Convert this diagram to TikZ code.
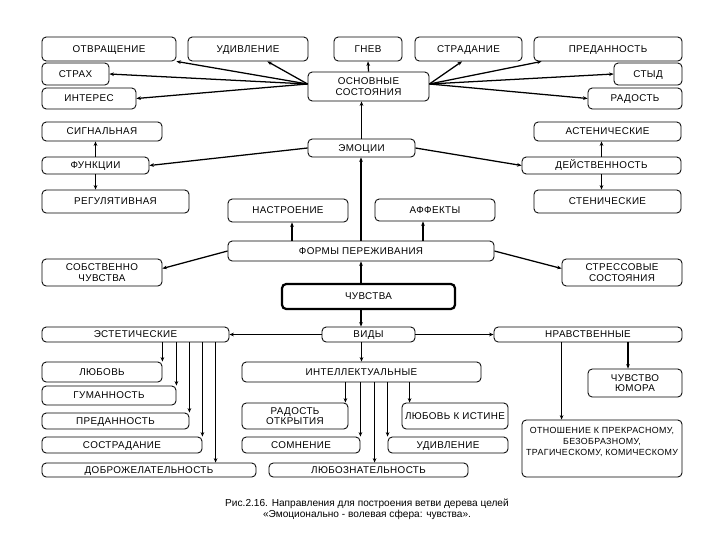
\documentclass[tikz,border=0pt]{standalone}
\usepackage{fontspec}
\setmainfont{Liberation Sans}[LetterSpace=4]
\newfontfamily\capfont{Liberation Sans}
\usetikzlibrary{arrows.meta, calc}

\begin{document}
\begin{tikzpicture}[
        x=0.025cm, y=-0.025cm,
        % box for every term
        box/.style={
            rectangle,
            rounded corners=3pt,
            draw=black,
            line width=0.6pt,
            inner sep=0pt,
            align=center,
            text height=5pt,
            text depth=0.6pt,
            font=\fontsize{7}{7.6}\selectfont
        },
        % two lines of text
        twoline/.style={text height=12.6pt, text depth=0pt},
        % box from its corners (left, top, right, bottom)
        area/.style n args={4}{
            at={({(#1+#3)/2},{(#2+#4)/2})},
            minimum width={(#3-#1)*0.025cm},
            minimum height={(#4-#2)*0.025cm}
        },
        % the central box
        mainbox/.style={box, line width=1.6pt},
        % arrows
        arrow/.style={
            -{Stealth[length=3.2pt, width=2.6pt]},
            line width=0.9pt,
            draw=black
        },
        thinarrow/.style={arrow, line width=0.5pt},
        boldarrow/.style={arrow, line width=1.2pt}
    ]

    % ================= canvas =================
    \fill[white] (0,0) rectangle (720,540);
    \useasboundingbox (0,0) rectangle (720,540);

    % ================= nodes =================
    % 1. basic states
    \node[box, area={42}{37}{176}{61}] (otvr) {ОТВРАЩЕНИЕ};
    \node[box, area={188}{37}{308}{61}] (udiv) {УДИВЛЕНИЕ};
    \node[box, area={334}{37}{402}{61}] (gnev) {ГНЕВ};
    \node[box, area={415}{37}{522}{61}] (strad) {СТРАДАНИЕ};
    \node[box, area={534}{37}{682}{61}] (pred) {ПРЕДАННОСТЬ};
    \node[box, area={42}{63}{109}{85}] (strah) {СТРАХ};
    \node[box, area={42}{88}{136}{109}] (inter) {ИНТЕРЕС};
    \node[box, twoline, area={308}{72}{429}{101}] (osn) {ОСНОВНЫЕ\\СОСТОЯНИЯ};
    \node[box, area={614}{63}{682}{85}] (styd) {СТЫД};
    \node[box, area={588}{88}{682}{109}] (rad) {РАДОСТЬ};

    % 2. emotions
    \node[box, area={42}{122}{162}{141}] (sign) {СИГНАЛЬНАЯ};
    \node[box, area={534}{122}{681}{141}] (asten) {АСТЕНИЧЕСКИЕ};
    \node[box, area={308}{139}{415}{157}] (emo) {ЭМОЦИИ};
    \node[box, area={42}{157}{149}{174}] (funk) {ФУНКЦИИ};
    \node[box, area={522}{157}{681}{174}] (deistv) {ДЕЙСТВЕННОСТЬ};
    \node[box, area={42}{190}{189}{213}] (regul) {РЕГУЛЯТИВНАЯ};
    \node[box, area={534}{190}{681}{213}] (sten) {СТЕНИЧЕСКИЕ};
    \node[box, area={228}{199}{348}{222}] (nastr) {НАСТРОЕНИЕ};
    \node[box, area={375}{199}{495}{221}] (affekt) {АФФЕКТЫ};

    % 3. forms and feelings
    \node[box, area={228}{241}{494}{261}] (formy) {ФОРМЫ ПЕРЕЖИВАНИЯ};
    \node[box, twoline, area={42}{259}{162}{286}] (sobstv) {СОБСТВЕННО\\ЧУВСТВА};
    \node[box, twoline, area={562}{259}{682}{286}] (stress) {СТРЕССОВЫЕ\\СОСТОЯНИЯ};
    \node[mainbox, area={282}{284}{455}{309}] (chuv) {ЧУВСТВА};

    % 4. kinds of feelings
    \node[box, area={42}{327}{229}{342}] (esth) {ЭСТЕТИЧЕСКИЕ};
    \node[box, area={322}{327}{415}{342}] (vidy) {ВИДЫ};
    \node[box, area={494}{327}{682}{342}] (nravst) {НРАВСТВЕННЫЕ};
    \node[box, area={42}{362}{162}{382}] (lyub) {ЛЮБОВЬ};
    \node[box, area={242}{362}{481}{382}] (intel) {ИНТЕЛЛЕКТУАЛЬНЫЕ};
    \node[box, twoline, area={588}{369}{682}{397}] (yumor) {ЧУВСТВО\\ЮМОРА};
    \node[box, area={42}{386}{176}{405}] (gum) {ГУМАННОСТЬ};
    \node[box, twoline, area={242}{403}{348}{429}] (radotk) {РАДОСТЬ\\ОТКРЫТИЯ};
    \node[box, area={402}{403}{508}{429}] (istina) {ЛЮБОВЬ К ИСТИНЕ};
    \node[box, area={42}{413}{189}{429}] (pred2) {ПРЕДАННОСТЬ};
    \node[box, area={522}{420}{682}{477}, font=\fontsize{6.3}{7.8}\selectfont,
          text height=20.1pt, text depth=10.6pt] (otnosh)
        {ОТНОШЕНИЕ К ПРЕКРАСНОМУ,\\БЕЗОБРАЗНОМУ,\\ТРАГИЧЕСКОМУ, КОМИЧЕСКОМУ};
    \node[box, area={42}{437}{202}{453}] (sostr) {СОСТРАДАНИЕ};
    \node[box, area={242}{437}{360}{453}] (somn) {СОМНЕНИЕ};
    \node[box, area={388}{437}{508}{453}] (udiv2) {УДИВЛЕНИЕ};
    \node[box, area={42}{463}{256}{477}] (dobro) {ДОБРОЖЕЛАТЕЛЬНОСТЬ};
    \node[box, area={269}{463}{468}{477}] (lyuboz) {ЛЮБОЗНАТЕЛЬНОСТЬ};

    % 5. caption
    \node[font=\capfont\fontsize{7.2}{6.6}\selectfont, align=center] (caption) at (367,509.5)
        {Рис.2.16. Направления для построения ветви дерева целей\\
         «Эмоционально - волевая сфера: чувства».};

    % ================= arrows =================
    % basic states
    \draw[arrow] ($(osn.west)+(0,-2.5)$) -- (otvr.south east);
    \draw[arrow] ($(osn.west)+(0,-2.5)$) -- ($(udiv.south west)!0.66!(udiv.south east)$);
    \draw[arrow] ($(osn.west)+(0,-2.5)$) -- (strah.east);
    \draw[arrow] ($(osn.west)+(0,-2.5)$) -- (inter.east);
    \draw[arrow] (osn.north) -- (gnev.south);
    \draw[arrow] ($(osn.east)+(0,-2.5)$) -- ($(strad.south west)!0.44!(strad.south east)$);
    \draw[arrow] ($(osn.east)+(0,-2.5)$) -- ($(pred.south west)+(8,0)$);
    \draw[arrow] ($(osn.east)+(0,-2.5)$) -- (styd.west);
    \draw[arrow] ($(osn.east)+(0,-2.5)$) -- (rad.west);

    % emotions
    \draw[arrow] (emo.north) -- (emo.north |- osn.south);
    \draw[arrow] (emo.west) -- (funk.east);
    \draw[arrow] (emo.east) -- (deistv.west);
    \draw[arrow] (funk.north) -- (funk.north |- sign.south);
    \draw[arrow] (funk.south) -- (funk.south |- regul.north);
    \draw[arrow] (deistv.north) -- (deistv.north |- asten.south);
    \draw[arrow] (deistv.south) -- (deistv.south |- sten.north);

    % forms
    \draw[arrow] (formy.north) -- (formy.north |- emo.south);
    \draw[boldarrow] ($(nastr.south |- formy.north)+(4,0)$) -- ($(nastr.south)+(4,0)$);
    \draw[boldarrow] ($(affekt.south |- formy.north)+(-12,0)$) -- ($(affekt.south)+(-12,0)$);
    \draw[arrow] (formy.west) -- ($(sobstv.east)+(0,-4)$);
    \draw[arrow] (formy.east) -- ($(stress.west)+(0,-4)$);
    \draw[arrow] (formy.south |- chuv.north) -- (formy.south);
    \draw[arrow] (formy.south |- chuv.south) -- (formy.south |- vidy.north);

    % kinds
    \draw[thinarrow] (vidy.west) -- (esth.east);
    \draw[thinarrow] (vidy.east) -- (nravst.west);
    \draw[arrow] (intel.north |- vidy.south) -- (intel.north);

    % aesthetic
    \draw[thinarrow] (esth.south -| lyub.north east) -- (lyub.north east);
    \draw[thinarrow] (esth.south -| gum.north east) -- (gum.north east);
    \draw[boldarrow] (esth.south -| pred2.north east) -- (pred2.north east);
    \draw[arrow] (esth.south -| sostr.north east) -- (sostr.north east);
    \draw[thinarrow] ($(esth.south west)+(174,0)$) -- ($(esth.south west |- dobro.north)+(174,0)$);

    % intellectual
    \draw[thinarrow] ($(intel.south -| radotk.north east)+(-3,0)$) -- ($(radotk.north east)+(-3,0)$);
    \draw[boldarrow] (intel.south -| somn.north east) -- (somn.north east);
    \draw[boldarrow] ($(intel.south -| lyuboz.north west)+(106,0)$) -- ($(lyuboz.north west)+(106,0)$);
    \draw[thinarrow] (intel.south -| udiv2.north west) -- (udiv2.north west);
    \draw[boldarrow] ($(intel.south -| istina.north west)+(8,0)$) -- ($(istina.north west)+(8,0)$);

    % moral
    \draw[thinarrow] ($(nravst.south -| otnosh.north west)+(40,0)$) -- ($(otnosh.north west)+(40,0)$);
    \draw[boldarrow] ($(nravst.south -| yumor.north)+(-7,0)$) -- ($(yumor.north)+(-7,0)$);

\end{tikzpicture}
\end{document}
